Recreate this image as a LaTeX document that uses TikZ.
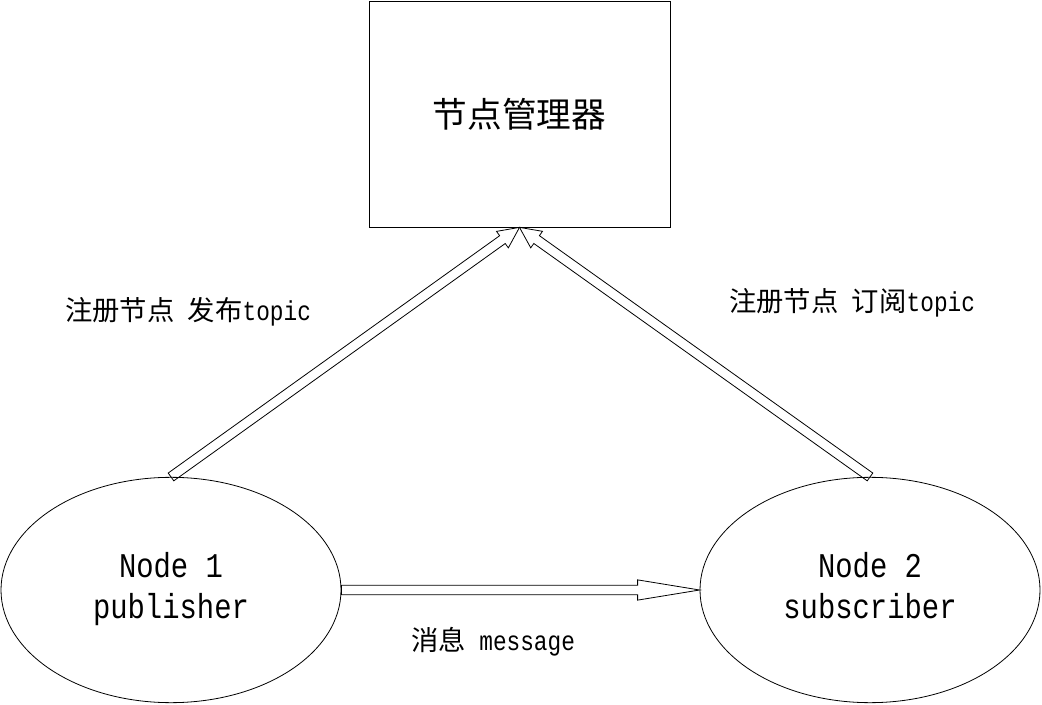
\documentclass[tikz,border=0pt]{standalone}
\usepackage{fontspec}
\setmainfont[FakeStretch=0.833]{Liberation Mono}
\newfontfamily\cjkfont{Noto Sans CJK SC}
\newcommand{\zh}[1]{{\cjkfont #1}}
\usetikzlibrary{calc,shapes.geometric}

\tikzset{
  box/.style={draw, line width=0.6pt, minimum width=225.75pt, minimum height=169.5pt, inner sep=0pt},
  blob/.style={draw, ellipse, line width=0.6pt, minimum width=255pt, minimum height=169pt, inner sep=0pt, align=center, font=\fontsize{26}{31}\selectfont},
  lbl/.style={inner sep=0pt, font=\fontsize{20.5}{24}\selectfont},
  hollow arrow/.style={line width=0.6pt, line join=miter, to path={
    ($(\tikztotarget)!#1!(\tikztostart)$) coordinate (hb)
    ($(\tikztostart)!3.6pt!90:(\tikztotarget)$)
    -- ($(hb)!3.6pt!90:(\tikztotarget)$)
    -- ($(hb)!7.6pt!90:(\tikztotarget)$)
    -- (\tikztotarget)
    -- ($(hb)!7.6pt!-90:(\tikztotarget)$)
    -- ($(hb)!3.6pt!-90:(\tikztotarget)$)
    -- ($(\tikztostart)!3.6pt!-90:(\tikztotarget)$)
    -- cycle}}
}

\begin{document}
\begin{tikzpicture}[x=0.75pt, y=-0.75pt]
\useasboundingbox (0,0) rectangle (1042,705);

\node [box, font=\fontsize{26}{31}\selectfont] (mgr) at (519.5,114) {\zh{节点管理器}};
\node [blob] (pub) at (171,590) {\strut Node 1\\\strut publisher};
\node [blob] (sub) at (870,590) {\strut Node 2\\\strut subscriber};

\draw [hollow arrow=15.75pt] (pub.north) to (mgr.south);
\draw [hollow arrow=15.75pt] (sub.north) to (mgr.south);
\draw [hollow arrow=46.5pt] (pub.east) to (sub.west);

\node [lbl] (regpub) at (188,312) {\zh{注册节点} \zh{发布}topic};
\node [lbl] (regsub) at (852,303) {\zh{注册节点} \zh{订阅}topic};
\node [lbl] (msg) at (493,642) {\zh{消息} message};
\end{tikzpicture}
\end{document}
